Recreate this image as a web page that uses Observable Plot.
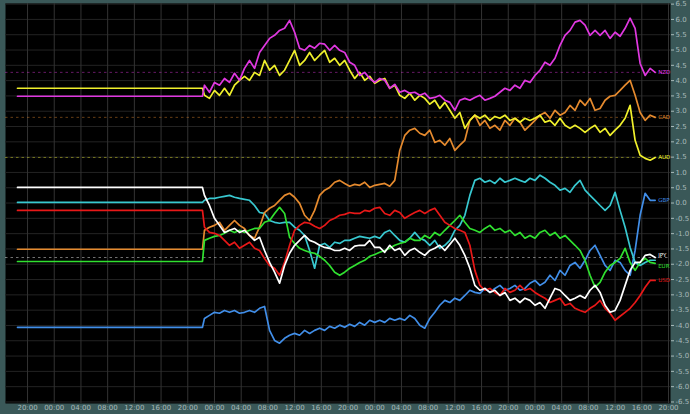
<!DOCTYPE html>
<html>
<head>
<meta charset="utf-8">
<script src="https://cdn.jsdelivr.net/npm/d3@7"></script>
<script src="https://cdn.jsdelivr.net/npm/@observablehq/plot@0.6"></script>
<style>
  html, body { margin: 0; padding: 0; background: #3a5858; }
  #chart { width: 690px; height: 414px; overflow: hidden; }
  svg { display: block; overflow: visible; }
</style>
</head>
<body>
<div id="chart"></div>
<script>
// ---- time axis (hours after the first 20:00 label) ----
const times = [-1.5, 26.2,
  26.5, 27.25, 28, 28.75, 29.5, 30.25, 31, 31.75, 32.5, 33.25,
  34, 34.75, 35.5, 36.25, 37, 37.75, 38.5, 39.25, 40, 40.75,
  41.5, 42.25, 43, 43.75, 44.5, 45.25, 46, 46.75, 47.5, 48.25,
  49, 49.75, 50.5, 51.25, 52, 52.75, 53.5, 54.25, 55, 55.75,
  56.5, 57.25, 58, 58.75, 59.5, 60.25, 61, 61.75, 62.5, 63.25,
  64, 64.75, 65.5, 66.25, 67, 67.75, 68.5, 69.25, 70, 70.75,
  71.5, 72.25, 73, 73.75, 74.5, 75.25, 76, 76.75, 77.5, 78.25,
  79, 79.75, 80.5, 81.25, 82, 82.75, 83.5, 84.25, 85, 85.75,
  86.5, 87.25, 88, 88.75, 89.5, 90.25, 91, 91.75, 92.5, 93.25,
  94];

const xTickHours = [0, 4, 8, 12, 16, 20, 24, 28, 32, 36, 40, 44, 48, 52, 56, 60, 64, 68, 72, 76, 80, 84, 88, 92, 96];
const xTickLabels = ["20:00","00:00","04:00","08:00","12:00","16:00",
  "20:00","00:00","04:00","08:00","12:00","16:00",
  "20:00","00:00","04:00","08:00","12:00","16:00",
  "20:00","00:00","04:00","08:00","12:00","16:00","20:00"];

const yTickValues = [6.5, 6, 5.5, 5, 4.5, 4, 3.5, 3, 2.5, 2, 1.5, 1, 0.5, 0,
  -0.5, -1, -1.5, -2, -2.5, -3, -3.5, -4, -4.5, -5, -5.5, -6, -6.5];
const yTickLabels = ["6.5","6.0","5.5","5.0","4.5","4.0","3.5","3.0","2.5","2.0","1.5","1.0","0.5","0.0",
  "-0.5","-1.0","-1.5","-2.0","-2.5","-3.0","-3.5","-4.0","-4.5","-5.0","-5.5","-6.0","-6.5"];

// ---- series values ----
const NZD = [3.49, 3.49,
  3.85, 3.62, 3.94, 3.85, 4.07, 3.94, 4.24, 4.01, 4.40, 4.66,
  4.40, 4.92, 5.15, 5.38, 5.48, 5.64, 5.71, 5.97, 5.58, 5.06,
  4.99, 5.15, 5.06, 5.22, 5.19, 4.99, 5.15, 4.99, 4.92, 4.60,
  4.50, 4.17, 4.27, 4.07, 3.94, 4.07, 4.01, 3.75, 3.88, 3.62,
  3.68, 3.59, 3.62, 3.52, 3.59, 3.42, 3.45, 3.52, 3.36, 3.29,
  3.03, 3.36, 3.42, 3.36, 3.45, 3.52, 3.36, 3.42, 3.49, 3.62,
  3.75, 3.68, 3.85, 3.75, 4.01, 3.94, 4.17, 4.34, 4.60, 4.50,
  4.73, 5.15, 5.48, 5.64, 5.91, 5.97, 5.81, 5.48, 5.64, 5.48,
  5.64, 5.38, 5.58, 5.45, 5.71, 6.04, 5.71, 4.56, 4.17, 4.40,
  4.27];

const AUD = [3.75, 3.75,
  3.52, 3.42, 3.68, 3.52, 3.75, 3.52, 3.85, 4.01, 4.14, 4.01,
  4.27, 4.17, 4.66, 4.34, 4.50, 4.17, 4.34, 4.66, 4.99, 4.50,
  4.66, 4.92, 4.66, 4.83, 4.99, 4.60, 4.73, 4.50, 4.66, 4.34,
  4.07, 4.27, 4.01, 4.14, 3.91, 4.01, 4.07, 3.75, 3.85, 3.52,
  3.42, 3.59, 3.36, 3.52, 3.42, 3.23, 3.36, 3.09, 3.29, 3.03,
  2.77, 2.96, 2.44, 2.70, 2.87, 2.77, 2.87, 2.70, 2.83, 2.77,
  2.87, 2.70, 2.77, 2.64, 2.77, 2.70, 2.77, 2.87, 2.64, 2.70,
  2.54, 2.77, 2.54, 2.44, 2.54, 2.44, 2.31, 2.44, 2.54, 2.31,
  2.44, 2.21, 2.38, 2.54, 2.77, 3.19, 2.05, 1.56, 1.46, 1.40,
  1.49];

const CAD = [-1.51, -1.51,
  -0.89, -0.79, -0.73, -0.63, -0.89, -0.73, -0.57, -0.73, -0.83, -1.06,
  -1.15, -0.79, -0.31, -0.17, -0.08, 0.09, 0.25, 0.32, 0.19, -0.01,
  -0.40, -0.57, -0.24, 0.25, 0.42, 0.51, 0.68, 0.74, 0.64, 0.55,
  0.61, 0.58, 0.68, 0.51, 0.58, 0.61, 0.64, 0.55, 0.74, 1.72,
  2.21, 2.38, 2.44, 2.28, 2.21, 2.38, 1.98, 2.05, 1.89, 2.11,
  1.72, 1.89, 2.05, 2.70, 2.87, 2.54, 2.70, 2.44, 2.54, 2.38,
  2.70, 2.54, 2.77, 2.64, 2.38, 2.54, 2.70, 2.87, 2.96, 2.77,
  3.03, 2.87, 2.96, 3.19, 3.03, 3.36, 3.19, 3.42, 3.03, 3.09,
  3.36, 3.49, 3.52, 3.68, 3.85, 4.01, 3.52, 2.96, 2.70, 2.87,
  2.80];

const JPY = [0.51, 0.51,
  0.25, -0.08, -0.50, -0.73, -0.96, -0.89, -0.83, -0.96, -0.89, -1.06,
  -1.22, -1.12, -1.55, -1.94, -2.26, -2.62, -2.04, -1.64, -1.38, -1.22,
  -1.06, -1.22, -1.28, -1.38, -1.45, -1.48, -1.55, -1.55, -1.48, -1.55,
  -1.41, -1.38, -1.38, -1.22, -1.45, -1.45, -1.61, -1.38, -1.55, -1.48,
  -1.71, -1.55, -1.48, -1.61, -1.71, -1.55, -1.48, -1.38, -1.55, -1.35,
  -1.15, -1.38, -1.71, -2.13, -2.69, -2.85, -2.79, -2.92, -2.85, -3.02,
  -2.92, -3.18, -3.11, -3.25, -3.11, -3.18, -3.34, -3.25, -3.44, -3.11,
  -2.79, -2.85, -3.02, -3.18, -3.11, -3.02, -3.11, -2.85, -2.69, -2.92,
  -3.34, -3.57, -3.51, -3.18, -2.69, -2.20, -1.94, -1.94, -1.71, -1.68,
  -1.78];

const CHF = [0.02, 0.02,
  0.09, 0.15, 0.15, 0.19, 0.22, 0.25, 0.19, 0.15, 0.12, 0.09,
  -0.08, -0.31, -0.34, -0.57, -0.63, -0.66, -0.63, -0.63, -0.79, -0.89,
  -1.06, -1.55, -2.13, -1.38, -1.32, -1.45, -1.28, -1.32, -1.22, -1.22,
  -1.15, -1.09, -1.12, -1.15, -1.09, -1.15, -0.96, -0.89, -1.06, -1.22,
  -1.28, -1.15, -0.96, -1.15, -1.22, -1.38, -1.22, -1.48, -1.38, -1.22,
  -0.89, -0.73, -0.40, 0.25, 0.74, 0.81, 0.68, 0.74, 0.64, 0.81,
  0.68, 0.74, 0.81, 0.74, 0.68, 0.81, 0.74, 0.91, 0.81, 0.68,
  0.58, 0.42, 0.48, 0.35, 0.58, 0.74, 0.42, 0.25, 0.09, -0.08,
  -0.24, -0.08, 0.35, -0.24, -0.79, -1.45, -1.94, -2.04, -1.94, -1.87,
  -1.87];

const GBP = [-4.06, -4.06,
  -3.77, -3.67, -3.57, -3.60, -3.51, -3.57, -3.51, -3.60, -3.57, -3.51,
  -3.57, -3.44, -3.38, -4.16, -4.49, -4.58, -4.42, -4.32, -4.26, -4.32,
  -4.16, -4.26, -4.16, -4.09, -4.16, -4.03, -4.09, -3.99, -4.06, -3.96,
  -4.03, -3.90, -3.99, -3.83, -3.90, -3.83, -3.90, -3.77, -3.83, -3.77,
  -3.83, -3.67, -3.77, -3.99, -4.09, -3.77, -3.57, -3.34, -3.18, -3.25,
  -3.11, -3.18, -3.02, -2.85, -2.92, -2.95, -2.79, -2.92, -2.79, -2.69,
  -2.85, -2.79, -2.69, -2.85, -2.79, -2.62, -2.53, -2.69, -2.59, -2.36,
  -2.53, -2.20, -2.36, -2.04, -1.94, -2.13, -1.87, -1.55, -1.38, -1.71,
  -2.04, -2.20, -1.87, -1.94, -2.20, -2.36, -1.55, -0.40, 0.32, 0.09,
  0.09];

const USD = [-0.24, -0.24,
  -0.79, -0.96, -0.99, -1.06, -1.22, -1.38, -1.28, -1.48, -1.38, -1.28,
  -1.48, -1.55, -1.81, -2.04, -2.13, -2.36, -1.94, -1.38, -0.89, -0.73,
  -0.63, -0.66, -0.76, -0.83, -0.73, -0.57, -0.50, -0.40, -0.37, -0.31,
  -0.34, -0.34, -0.24, -0.27, -0.17, -0.14, -0.34, -0.40, -0.24, -0.31,
  -0.50, -0.40, -0.31, -0.24, -0.34, -0.24, -0.17, -0.40, -0.63, -0.73,
  -0.83, -0.89, -0.96, -1.38, -2.20, -2.69, -2.85, -2.79, -2.92, -3.02,
  -2.79, -2.92, -2.85, -2.69, -2.85, -2.79, -2.92, -3.02, -3.11, -3.25,
  -3.18, -3.11, -3.34, -3.28, -3.44, -3.51, -3.57, -3.44, -3.34, -3.18,
  -3.44, -3.60, -3.83, -3.70, -3.57, -3.44, -3.25, -3.02, -2.75, -2.53,
  -2.53];

const EUR = [-1.91, -1.91,
  -1.22, -1.15, -1.09, -1.06, -0.99, -0.89, -0.96, -0.89, -0.96, -0.89,
  -0.83, -0.83, -0.63, -0.57, -0.34, -0.14, -0.34, -1.12, -1.32, -1.48,
  -1.55, -1.61, -1.64, -1.74, -1.87, -2.04, -2.26, -2.36, -2.26, -2.13,
  -2.04, -1.94, -1.87, -1.74, -1.68, -1.61, -1.55, -1.48, -1.38, -1.32,
  -1.28, -1.15, -1.22, -1.22, -1.06, -1.15, -0.96, -1.06, -0.89, -0.73,
  -0.57, -0.40, -0.63, -0.83, -0.89, -0.96, -0.83, -0.73, -0.89, -0.83,
  -0.96, -0.89, -1.06, -0.96, -1.15, -1.06, -1.15, -0.96, -0.89, -1.06,
  -0.96, -1.15, -1.06, -1.22, -1.38, -1.55, -1.87, -2.36, -2.75, -2.59,
  -2.26, -2.04, -1.94, -1.81, -1.48, -1.94, -2.20, -1.94, -1.81, -1.94,
  -1.97];

// drawing order (first = bottom)
const seriesNames = ["GBP", "CHF", "CAD", "EUR", "USD", "JPY", "AUD", "NZD"];
const seriesValues = [GBP, CHF, CAD, EUR, USD, JPY, AUD, NZD];
const labelled = ["NZD", "CAD", "AUD", "GBP", "JPY", "EUR", "USD"];
const dashedLevels = ["NZD", "CAD", "AUD", "JPY"];

// ---- styles ----
const seriesColors = {
  NZD: "#e038e0", AUD: "#f0f02c", CAD: "#e58a2e", JPY: "#ffffff",
  CHF: "#38c8d0", GBP: "#418ee8", USD: "#e81818", EUR: "#30e030"
};
const labelNudge = {JPY: -2.5, EUR: 2.5};

seriesValues.forEach((vals, i) => {
  if (vals.length !== times.length) throw new Error(seriesNames[i] + " length " + vals.length + " vs " + times.length);
});

const rows = seriesNames.flatMap((name, i) =>
  seriesValues[i].map((v, j) => ({name, t: times[j], v})));
const lastPoints = seriesNames.map((name, i) => ({name, t: times[times.length - 1], v: seriesValues[i][seriesValues[i].length - 1]}));
const labelRows = lastPoints.filter(d => labelled.includes(d.name));

const chart = Plot.plot({
  width: 690,
  height: 414,
  marginLeft: 5,
  marginRight: 20,
  marginTop: 3,
  marginBottom: 11,
  style: {background: "#3a5858", color: "#a9baba", fontFamily: "DejaVu Sans", fontSize: "7px"},
  x: {domain: [-3.3, 96.3], axis: null},
  y: {domain: [-6.55, 6.52], axis: null},
  marks: [
    Plot.frame({fill: "#000000", stroke: null}),
    Plot.ruleY(yTickValues, {stroke: "#232323", strokeWidth: 1}),
    Plot.ruleX(xTickHours, {stroke: "#333333", strokeWidth: 1}),
    Plot.ruleY(lastPoints.filter(d => dashedLevels.includes(d.name)), {
      y: "v", stroke: d => seriesColors[d.name], strokeOpacity: 0.45, strokeDasharray: "2.5,3", strokeWidth: 1
    }),
    Plot.line(rows, {x: "t", y: "v", z: "name", stroke: d => seriesColors[d.name], strokeWidth: 1.7, curve: "linear"}),
    ...labelRows.map(d => Plot.text([d], {
      x: "t", y: "v", text: "name", dx: 3, dy: labelNudge[d.name] || 0,
      textAnchor: "start", fontSize: 5.5, fill: seriesColors[d.name]
    })),
    Plot.axisX(xTickHours, {
      anchor: "bottom", tickSize: 0, tickPadding: 2, label: null,
      tickFormat: d => xTickLabels[xTickHours.indexOf(d)], fill: "#a9baba"
    }),
    Plot.axisY(yTickValues, {
      anchor: "right", tickSize: 3, tickPadding: 2, label: null,
      tickFormat: d => yTickLabels[yTickValues.indexOf(d)], fill: "#a9baba", stroke: "#a9baba"
    })
  ]
});
document.getElementById("chart").appendChild(chart);
</script>
</body>
</html>
